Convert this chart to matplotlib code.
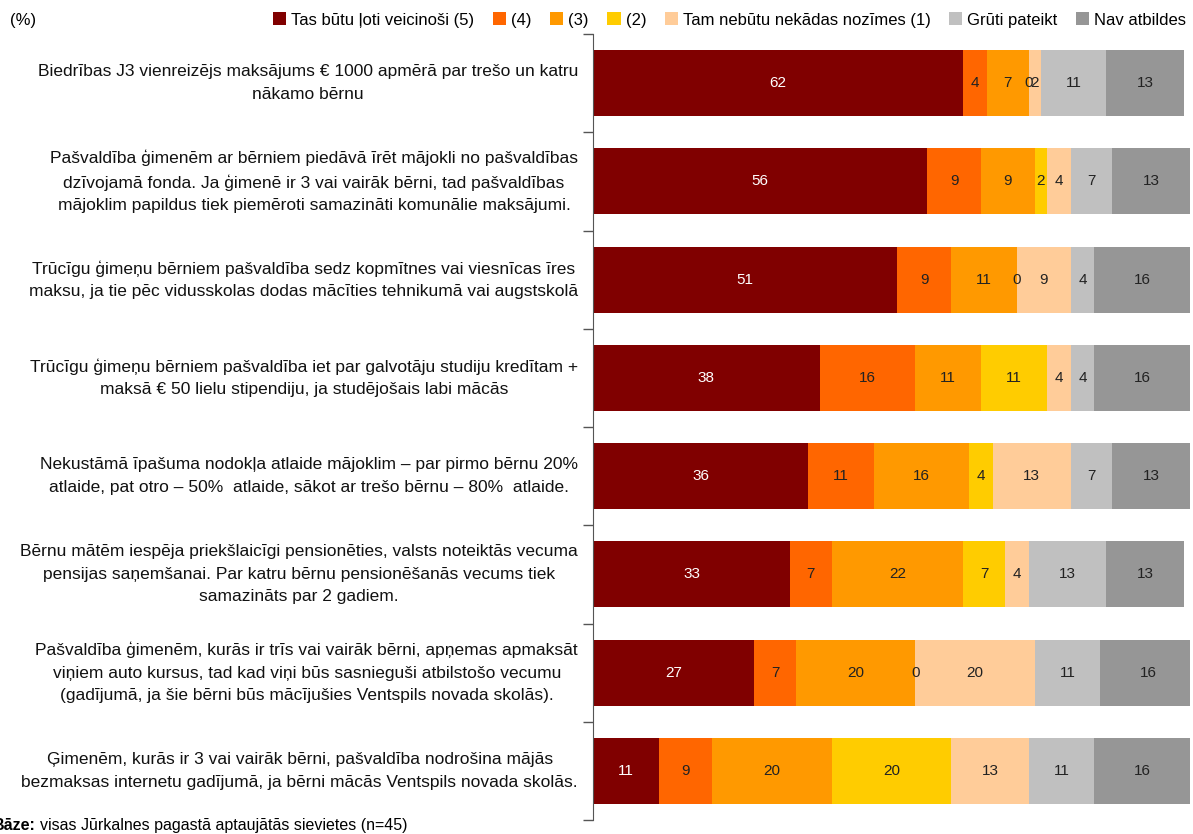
import numpy as np
import matplotlib.pyplot as plt
from matplotlib import font_manager

# Data
categories = [
    "Biedrības J3 vienreizējs maksājums € 1000 apmērā par trešo un katru\nnākamo bērnu",
    "Pašvaldība ģimenēm ar bērniem piedāvā īrēt mājokli no pašvaldības\ndzīvojamā fonda. Ja ģimenē ir 3 vai vairāk bērni, tad pašvaldības\nmājoklim papildus tiek piemēroti samazināti komunālie maksājumi.",
    "Trūcīgu ģimeņu bērniem pašvaldība sedz kopmītnes vai viesnīcas īres\nmaksu, ja tie pēc vidusskolas dodas mācīties tehnikumā vai augstskolā",
    "Trūcīgu ģimeņu bērniem pašvaldība iet par galvotāju studiju kredītam +\nmaksā € 50 lielu stipendiju, ja studējošais labi mācās",
    "Nekustāmā īpašuma nodokļa atlaide mājoklim – par pirmo bērnu 20%\natlaide, pat otro – 50%  atlaide, sākot ar trešo bērnu – 80%  atlaide.",
    "Bērnu mātēm iespēja priekšlaicīgi pensionēties, valsts noteiktās vecuma\npensijas saņemšanai. Par katru bērnu pensionēšanās vecums tiek\nsamazināts par 2 gadiem.",
    "Pašvaldība ģimenēm, kurās ir trīs vai vairāk bērni, apņemas apmaksāt\nviņiem auto kursus, tad kad viņi būs sasnieguši atbilstošo vecumu\n(gadījumā, ja šie bērni būs mācījušies Ventspils novada skolās).",
    "Ģimenēm, kurās ir 3 vai vairāk bērni, pašvaldība nodrošina mājās\nbezmaksas internetu gadījumā, ja bērni mācās Ventspils novada skolās.",
]
series_names = ["Tas būtu ļoti veicinoši (5)", "(4)", "(3)", "(2)",
                "Tam nebūtu nekādas nozīmes (1)", "Grūti pateikt", "Nav atbildes"]
s5 = [62, 56, 51, 38, 36, 33, 27, 11]
s4 = [4, 9, 9, 16, 11, 7, 7, 9]
s3 = [7, 9, 11, 11, 16, 22, 20, 20]
s2 = [0, 2, 0, 11, 4, 7, 0, 20]
s1 = [2, 4, 9, 4, 13, 4, 20, 13]
hard = [11, 7, 4, 4, 7, 13, 11, 11]
no_answer = [13, 13, 16, 16, 13, 13, 16, 16]
series = [s5, s4, s3, s2, s1, hard, no_answer]
colors = ["#800000", "#FF6600", "#FF9900", "#FFCC00", "#FFCC99", "#C0C0C0", "#969696"]

names = {f.name for f in font_manager.fontManager.ttflist}
fam = "Liberation Sans Narrow" if "Liberation Sans Narrow" in names else "Liberation Sans"
plt.rcParams['font.family'] = [fam, 'DejaVu Sans']

fig = plt.figure(figsize=(11.93, 8.34), dpi=100)
ax = fig.add_axes([593 / 1193, 14 / 834, 597 / 1193, 786 / 834])

y = np.arange(len(categories))
left = np.zeros(len(categories))
for k, (vals, col) in enumerate(zip(series, colors)):
    vals = np.array(vals, dtype=float)
    ax.barh(y, vals, left=left, height=0.67, color=col, label=series_names[k])
    for i in range(len(y)):
        xc = left[i] + vals[i] / 2
        ax.text(xc, y[i], str(int(vals[i])), ha='center', va='center', fontsize=11,
                color='white' if k == 0 else '#222222')
    left += vals

ax.set_xlim(0, 100)
ax.set_ylim(len(categories) - 0.5, -0.5)
ax.set_xticks([])
ax.set_yticks(np.arange(-0.5, len(categories), 1))
ax.set_yticklabels([])
ax.tick_params(axis='y', direction='out', length=7, color='#555555', width=1)
for s in ['top', 'right', 'bottom']:
    ax.spines[s].set_visible(False)
ax.spines['left'].set_color('#555555')

for i, lab in enumerate(categories):
    ax.text(-0.025, i, lab, transform=ax.get_yaxis_transform(), ha='right', va='center',
            multialignment='center', fontsize=12.5, linespacing=1.62, color='#111111')

fig.text(10 / 1193, 1 - 20 / 834, "(%)", fontsize=12, va='center', ha='left')
fig.legend(loc='center right', bbox_to_anchor=(1.0, 1 - 20 / 834), ncol=7, frameon=False,
           fontsize=12, handlelength=0.8, handleheight=0.8, handletextpad=0.3,
           columnspacing=1.1, borderaxespad=0)

# footer (the "B" is cut off by the left edge, as in the source image)
fig.text(36 / 1193, 4 / 834, "Bāze:", fontsize=11.5, fontweight='bold', ha='right', va='baseline')
fig.text(40 / 1193, 4 / 834, "visas Jūrkalnes pagastā aptaujātās sievietes (n=45)",
         fontsize=11.5, ha='left', va='baseline')

fig.savefig("out.png", dpi=100)
